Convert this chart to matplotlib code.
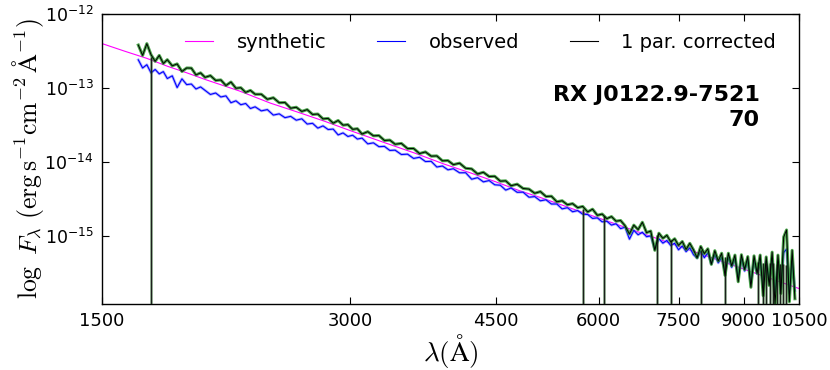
import numpy as np
import matplotlib
matplotlib.use('Agg')
import matplotlib.pyplot as plt
from matplotlib.ticker import FixedLocator, FixedFormatter, NullLocator, LogLocator, LogFormatterSciNotation

# ---------------- data (wavelength in Angstrom, log10 of flux) ----------------
wave = [1660, 1680, 1700, 1720, 1740, 1760, 1780, 1800, 1825, 1850, 1875, 1900, 1925,
        1950, 1975, 2000, 2030, 2060, 2090, 2120, 2150, 2180, 2210, 2240, 2270, 2300,
        2340, 2380, 2420, 2460, 2500, 2540, 2580, 2620, 2660, 2700, 2740, 2780, 2820,
        2860, 2900, 2940, 2980, 3020, 3060, 3100, 3150, 3200, 3250, 3300, 3350, 3400,
        3460, 3520, 3580, 3640, 3700, 3760, 3820, 3880, 3940, 4000, 4070, 4140, 4210,
        4280, 4350, 4420, 4490, 4560, 4630, 4700, 4780, 4860, 4940, 5020, 5100, 5180,
        5260, 5340, 5420, 5500, 5580, 5660, 5740, 5820, 5900, 5980,
        6060, 6140, 6220, 6300, 6380, 6460, 6540, 6620, 6700, 6780, 6860, 6940, 7020,
        7100, 7180, 7260, 7340, 7420, 7500, 7580, 7660, 7740, 7820, 7900, 7980, 8060,
        8140, 8220, 8300, 8380, 8460, 8540, 8620, 8700, 8780, 8860, 8940, 9020, 9100,
        9180, 9260, 9340, 9420, 9500, 9580, 9660, 9740, 9820, 9900, 9980, 10060, 10140,
        10220, 10300, 10380]

logf_corrected = [
    -12.420, -12.560, -12.401, -12.551, -12.640, -12.560, -12.669, -12.618, -12.701,
    -12.675, -12.777, -12.730, -12.732, -12.824, -12.796, -12.857, -12.833, -12.898,
    -12.892, -12.967, -12.920, -13.004, -12.997, -13.060, -13.033, -13.085,
    -13.085, -13.153, -13.132, -13.200, -13.197, -13.274, -13.261, -13.317, -13.293,
    -13.358, -13.353, -13.418, -13.412, -13.476, -13.440, -13.503, -13.496, -13.559,
    -13.551, -13.623, -13.591, -13.647, -13.644, -13.710, -13.705, -13.761,
    -13.750, -13.820, -13.818, -13.887, -13.865, -13.922, -13.919, -13.985, -13.982,
    -14.037, -14.017, -14.086, -14.094, -14.163, -14.140, -14.197, -14.194, -14.260,
    -14.256, -14.322, -14.301, -14.359, -14.367, -14.424, -14.401, -14.467, -14.464,
    -14.539, -14.525, -14.579, -14.564, -14.618, -14.602, -14.676, -14.639, -14.722,
    -14.705, -14.767, -14.739, -14.801, -14.792, -14.863, -14.974, -14.855, -14.915,
    -14.816, -14.956, -14.935, -15.195, -14.964, -15.033, -14.992, -15.081, -15.039,
    -15.128, -15.076, -15.183, -15.101, -15.189, -15.296, -15.143, -15.240, -15.175,
    -15.385, -15.200, -15.340, -15.235, -15.535, -15.235, -15.405, -15.260, -15.620,
    -15.255, -15.455, -15.280, -15.695, -15.270, -15.505, -15.260, -15.810, -15.285,
    -15.670, -15.220, -15.925, -15.260, -15.780, -15.015, -14.920, -15.890, -15.195,
    -15.850]

logf_observed = [
    -12.620, -12.730, -12.686, -12.796, -12.750, -12.810, -12.779, -12.873, -12.836,
    -12.995, -12.877, -12.955, -12.947, -13.014, -12.986, -13.032, -13.088, -13.068,
    -13.122, -13.107, -13.200, -13.174, -13.227, -13.210, -13.278, -13.255,
    -13.310, -13.293, -13.367, -13.350, -13.402, -13.384, -13.436, -13.417, -13.488,
    -13.478, -13.543, -13.513, -13.562, -13.556, -13.635, -13.608, -13.656, -13.639,
    -13.691, -13.678, -13.756, -13.742, -13.794, -13.790, -13.845, -13.841,
    -13.900, -13.895, -13.953, -13.937, -13.995, -13.992, -14.069, -14.055, -14.107,
    -14.092, -14.147, -14.146, -14.234, -14.213, -14.270, -14.252, -14.309, -14.315,
    -14.381, -14.352, -14.411, -14.409, -14.477, -14.469, -14.526, -14.512, -14.569,
    -14.569, -14.635, -14.619, -14.674, -14.658, -14.707, -14.711, -14.764, -14.757,
    -14.810, -14.802, -14.854, -14.836, -14.902, -14.883, -15.044, -14.925, -14.985,
    -14.951, -15.011, -15.000, -15.180, -15.039, -15.098, -15.062, -15.131, -15.099,
    -15.188, -15.136, -15.213, -15.161, -15.254, -15.301, -15.208, -15.295, -15.230,
    -15.380, -15.255, -15.365, -15.290, -15.475, -15.295, -15.425, -15.310, -15.560,
    -15.315, -15.475, -15.330, -15.635, -15.330, -15.515, -15.330, -15.700, -15.345,
    -15.610, -15.310, -15.765, -15.340, -15.720, -15.225, -15.180, -15.780, -15.335,
    -15.740]

wave_synth = [1500, 1600, 1700, 1800, 1900, 2000, 2200, 2400, 2600, 2800, 3000, 3300,
              3600, 3900, 4200, 4500, 4800, 5100, 5400, 5700, 6000, 6400, 6800, 7200,
              7600, 8000, 8500, 9000, 9500, 10000, 10500]
logf_synth = [-12.400, -12.505, -12.600, -12.706, -12.795, -12.885, -13.040, -13.205,
              -13.333, -13.455, -13.577, -13.739, -13.885, -14.030, -14.150, -14.268,
              -14.385, -14.481, -14.578, -14.671, -14.758, -14.868, -14.971, -15.069,
              -15.161, -15.248, -15.352, -15.449, -15.542, -15.629, -15.712]

# samples of the corrected spectrum that fall to zero flux
drop_wave = [1718, 5746, 6092, 7065, 7337, 7997, 8535, 9366, 9494, 9578, 9686, 9767,
             9878, 9962, 10046, 10130]
drop_logf = [-12.578, -14.634, -14.734, -14.985, -15.050, -15.190, -15.285, -15.355,
             -15.360, -15.365, -15.370, -15.370, -15.380, -15.380, -15.385, -15.390]

xticks = [1500, 3000, 4500, 6000, 7500, 9000, 10500]
xtick_labels = ['1500', '3000', '4500', '6000', '7500', '9000', '10500']
series_labels = ['synthetic', 'observed', '1 par. corrected']
object_name = 'RX J0122.9-7521'
object_id = '70'

# ---------------- figure ----------------
plt.rcParams['font.family'] = ['DejaVu Sans']
plt.rcParams['mathtext.fontset'] = 'dejavusans'

fig = plt.figure(figsize=(8.3, 3.7), dpi=100)
fig.patch.set_facecolor('white')
ax = fig.add_axes([0.1229, 0.1784, 0.8398, 0.7838])
ax.set_xscale('log')
ax.set_yscale('log')

w = np.array(wave, dtype=float)
fc = 10.0 ** np.array(logf_corrected)
fo = 10.0 ** np.array(logf_observed)
fs = 10.0 ** np.array(logf_synth)
fd = 10.0 ** np.array(drop_logf)

ax.plot(wave_synth, fs, color='#ff00ff', lw=0.8, label=series_labels[0], zorder=2)
ax.plot(w, fo, color='#7f7fff', lw=2.0, alpha=0.6, zorder=3)
ax.plot(w, fo, color='#0000ff', lw=0.8, label=series_labels[1], zorder=4)
ax.vlines(drop_wave, 1e-17, fd, colors='#2e7d2e', lw=1.8, alpha=0.5, zorder=5)
ax.plot(w, fc, color='#1f8f1f', lw=2.2, alpha=0.8, zorder=5)
ax.vlines(drop_wave, 1e-17, fd, colors='#1c1f1c', lw=1.0, zorder=6)
ax.plot(w, fc, color='black', lw=0.7, label=series_labels[2], zorder=7)

ax.set_xlim(1500, 10500)
ax.set_ylim(1.2e-16, 1e-12)

ax.xaxis.set_major_locator(FixedLocator(xticks))
ax.xaxis.set_major_formatter(FixedFormatter(xtick_labels))
ax.xaxis.set_minor_locator(NullLocator())
ax.yaxis.set_major_locator(LogLocator(base=10))
ax.yaxis.set_major_formatter(LogFormatterSciNotation())
ax.yaxis.set_minor_locator(NullLocator())
ax.tick_params(which='both', direction='in', top=True, right=True, length=5,
               width=0.8, labelsize=13, pad=6, colors='black')
ax.tick_params(axis='y', labelsize=12.5)
for sp in ax.spines.values():
    sp.set_linewidth(1.0)

ax.set_xlabel(r'$\lambda(\mathrm{\AA})$', fontsize=19.5, math_fontfamily='cm', labelpad=1)
ax.set_ylabel(r'$\log\ F_\lambda\ (\mathrm{erg\,s^{-1}cm^{-2}\,\AA^{-1}})$',
              fontsize=18.5, math_fontfamily='cm', labelpad=-1)

leg = ax.legend(loc='center', bbox_to_anchor=(0.543, 0.903), ncol=3, frameon=False,
                fontsize=14, handlelength=1.45, handletextpad=1.2, columnspacing=2.6,
                borderpad=0, borderaxespad=0)
for line in leg.get_lines():
    line.set_linewidth(0.8)

ax.text(0.944, 0.678, object_name + '\n' + object_id, transform=ax.transAxes,
        ha='right', va='center', multialignment='right', fontsize=16,
        fontweight='bold', linespacing=1.3, zorder=10)

fig.savefig('out.png', dpi=100, facecolor='white')
